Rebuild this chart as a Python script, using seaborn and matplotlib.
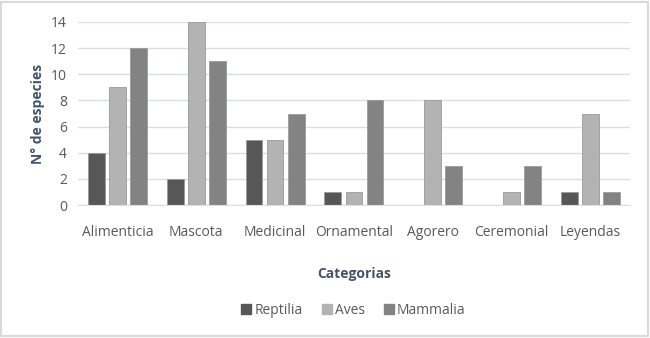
import pandas as pd
import matplotlib.pyplot as plt
from matplotlib.lines import Line2D
import seaborn as sns

categorias = ['Alimenticia', 'Mascota', 'Medicinal', 'Ornamental', 'Agorero', 'Ceremonial', 'Leyendas']
reptilia = [4, 2, 5, 1, 0, 0, 1]
aves = [9, 14, 5, 1, 8, 1, 7]
mammalia = [12, 11, 7, 8, 3, 3, 1]

df = pd.DataFrame({'Categoria': categorias, 'Reptilia': reptilia, 'Aves': aves, 'Mammalia': mammalia})
df = df.melt(id_vars='Categoria', var_name='Grupo', value_name='Especies')

sns.set_style('white')
plt.rcParams['font.family'] = ['Open Sans', 'DejaVu Sans']

fig = plt.figure(figsize=(6.5, 3.38), dpi=100)
ax = fig.add_axes([0.12, 0.393, 0.849, 0.542])
colores = {'Reptilia': '#575757', 'Aves': '#b3b3b3', 'Mammalia': '#838383'}
sns.barplot(data=df, x='Categoria', y='Especies', hue='Grupo', palette=colores,
            width=0.8, gap=0.2, ax=ax, edgecolor='#9a9a9a', linewidth=0.6, legend=False)

ax.set_ylim(0, 14)
ax.set_yticks(range(0, 15, 2))
ax.yaxis.grid(True, color='#d9dfe8', linewidth=1)
ax.set_axisbelow(True)
for s in ['top', 'right', 'left']:
    ax.spines[s].set_visible(False)
ax.spines['bottom'].set_color('#d9dfe8')
ax.tick_params(axis='both', length=0, labelsize=10, labelcolor='#595959')
ax.tick_params(axis='x', pad=14)
ax.tick_params(axis='y', pad=8)
ax.set_xlabel('Categorias', fontsize=10, fontweight='bold', color='#44546a', labelpad=20)
ax.set_ylabel('N° de especies', fontsize=10, fontweight='bold', color='#44546a', labelpad=4)

# square markers like the original legend
handles = [Line2D([], [], marker='s', linestyle='', markersize=7, color=c, label=k)
           for k, c in colores.items()]
ax.legend(handles=handles, loc='center', bbox_to_anchor=(0.5, -0.575), ncol=3, frameon=False,
          fontsize=10, labelcolor='#595959', handlelength=0.6,
          handletextpad=0.3, columnspacing=1.4)

fig.patches.append(plt.Rectangle((0.002, 0.005), 0.995, 0.99, transform=fig.transFigure,
                                 fill=False, edgecolor='#d9d9d9', linewidth=1.5))
fig.savefig('out.png', dpi=100)
